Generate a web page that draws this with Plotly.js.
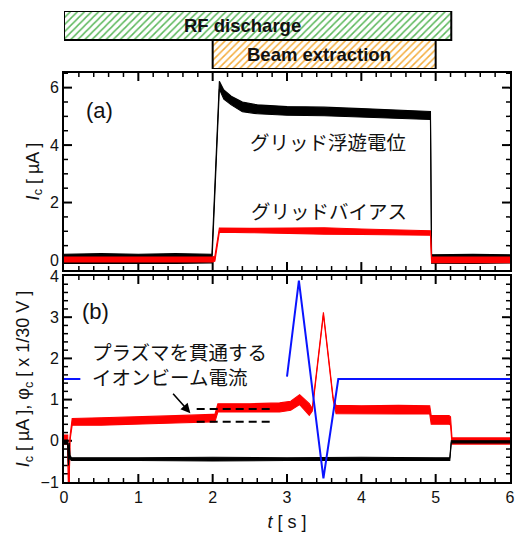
<!DOCTYPE html>
<html>
<head>
<meta charset="utf-8">
<script src="https://cdn.plot.ly/plotly-3.0.1.min.js"></script>
<style>html,body{margin:0;padding:0;background:#fff;}</style>
</head>
<body>
<div id="chart"></div>
<script>
// ---- phase bars (top) ----
const phaseNames = ['RF discharge', 'Beam extraction'];
const phaseStart = [0, 2.0];
const phaseEnd = [5.21, 5.0];

// ---- panel (a): grid floating potential (black) ----
const floatT  = [0, 0.5, 1.0, 1.5, 1.99, 2.09, 2.15, 2.25, 2.4, 2.6, 3.0, 3.5, 4.0, 4.5, 4.93, 4.945, 5.5, 6.0];
const floatHi = [0.20, 0.22, 0.20, 0.22, 0.20, 6.22, 5.92, 5.70, 5.50, 5.40, 5.34, 5.32, 5.27, 5.22, 5.17, 0.18, 0.20, 0.18];
const floatLo = [-0.12, -0.13, -0.12, -0.12, -0.10, 5.95, 5.60, 5.40, 5.16, 5.09, 5.04, 5.02, 4.98, 4.94, 4.89, -0.11, -0.12, -0.10];

// ---- panel (a): grid bias (red) ----
const biasT  = [0, 0.5, 1.0, 1.5, 2.0, 2.03, 2.09, 2.5, 3.0, 3.5, 4.0, 4.5, 4.93, 4.945, 5.5, 6.0];
const biasHi = [0.10, 0.10, 0.10, 0.10, 0.10, 0.14, 1.11, 1.10, 1.10, 1.12, 1.08, 1.04, 1.02, 0.10, 0.10, 0.10];
const biasLo = [-0.07, -0.07, -0.07, -0.07, -0.07, -0.04, 0.97, 0.95, 0.92, 0.90, 0.89, 0.87, 0.86, -0.09, -0.09, -0.09];

// ---- panel (b): ion beam current through plasma (red) ----
const beamT  = [0, 0.05, 0.062, 0.068, 0.08, 0.11, 0.5, 1.0, 1.5, 2.0, 2.03, 2.07, 2.5, 2.9, 3.05, 3.17, 3.3, 3.34, 3.49, 3.62, 3.66, 4.0, 4.5, 4.92, 4.94, 5.18, 5.2, 5.22, 5.6, 6.0];
const beamHi = [0.14, 0.14, -1.3, -1.3, 0.10, 0.54, 0.56, 0.58, 0.61, 0.64, 0.64, 0.90, 0.90, 0.92, 0.96, 1.12, 0.90, 0.78, 3.12, 1.06, 0.86, 0.85, 0.86, 0.85, 0.61, 0.61, 0.58, 0.07, 0.07, 0.07];
const beamLo = [-0.08, -0.08, -1.3, -1.3, 0.00, 0.38, 0.38, 0.40, 0.43, 0.46, 0.46, 0.70, 0.70, 0.70, 0.74, 0.88, 0.62, 0.72, 3.06, 1.00, 0.66, 0.65, 0.65, 0.65, 0.40, 0.40, 0.38, -0.08, -0.08, -0.08];

// ---- panel (b): collector current (black) ----
const ionT  = [0, 0.05, 0.06, 0.07, 0.08, 0.1, 1.0, 2.0, 3.0, 4.0, 5.0, 5.19, 5.21, 5.6, 6.0];
const ionHi = [0.02, 0.02, -0.55, -0.05, -0.35, -0.41, -0.41, -0.40, -0.41, -0.40, -0.41, -0.41, 0.00, 0.00, 0.00];
const ionLo = [-0.08, -0.08, -0.60, -0.10, -0.45, -0.48, -0.48, -0.49, -0.48, -0.48, -0.48, -0.48, -0.05, -0.05, -0.05];

// ---- panel (b): collector potential (blue, x 1/30 V) ----
const potT = [0, 0.22, 0.22, 3.0, 3.16, 3.49, 3.69, 6.0];
const potV = [1.5, 1.5, null, 1.56, 3.89, -0.91, 1.5, 1.5];

// ---- dashed reference levels ----
const dashT = [1.785, 2.77];
const dashUpper = 0.77;
const dashLower = 0.465;

const FONT = 'Liberation Sans, Arial, sans-serif';
const JP = 'Noto Sans CJK JP, sans-serif';

// ---- axis geometry ----
const W = 517, H = 539, M = {l: 64, r: 7, t: 11, b: 57};
const plotW = W - M.l - M.r, plotH = H - M.t - M.b;
const domB = [0, 0.4374], domA = [0.45, 0.8684], domBars = [0.8769, 1];
const xRange = [0, 6], yRangeB = [-1, 4], yRangeA = [-0.35, 6.51];

function band(t, hi, lo, color, xa, ya) {
  return [
    {x: t, y: lo, xaxis: xa, yaxis: ya, type: 'scatter', mode: 'lines',
     line: {color: color, width: 1.1}, hoverinfo: 'skip', showlegend: false},
    {x: t, y: hi, xaxis: xa, yaxis: ya, type: 'scatter', mode: 'lines', fill: 'tonexty',
     fillcolor: color, line: {color: color, width: 1.1}, hoverinfo: 'skip', showlegend: false}
  ];
}

// inside tick marks on all four sides of a panel, as line segments in the panel's own axes
function tickTraces(xa, ya, xr, yr, xMajor, xMinor, yMajor, yMinor, dom) {
  const pxX = plotW / (xr[1] - xr[0]);
  const pxY = (dom[1] - dom[0]) * plotH / (yr[1] - yr[0]);
  const isMaj = (v, m) => Math.abs(v / m - Math.round(v / m)) < 1e-6;
  const mk = () => ({x: [], y: []});
  const maj = mk(), mnr = mk();
  const nx = Math.round((xr[1] - xr[0]) / xMinor);
  for (let i = 1; i < nx; i++) {
    const v = xr[0] + i * xMinor, M2 = isMaj(v, xMajor), d = (M2 ? 8 : 4) / pxY, s = M2 ? maj : mnr;
    s.x.push(v, v, null, v, v, null);
    s.y.push(yr[0], yr[0] + d, null, yr[1], yr[1] - d, null);
  }
  const y0i = Math.ceil(yr[0] / yMinor - 1e-9), y1i = Math.floor(yr[1] / yMinor + 1e-9);
  for (let i = y0i; i <= y1i; i++) {
    const v = i * yMinor;
    if (Math.abs(v - yr[0]) < 1e-6 || Math.abs(v - yr[1]) < 1e-6) continue;
    const M2 = isMaj(v, yMajor), d = (M2 ? 8 : 4) / pxX, s = M2 ? maj : mnr;
    s.x.push(xr[0], xr[0] + d, null, xr[1], xr[1] - d, null);
    s.y.push(v, v, null, v, v, null);
  }
  return [
    {x: maj.x, y: maj.y, xaxis: xa, yaxis: ya, type: 'scatter', mode: 'lines', connectgaps: false,
     line: {color: '#000', width: 2}, hoverinfo: 'skip', showlegend: false},
    {x: mnr.x, y: mnr.y, xaxis: xa, yaxis: ya, type: 'scatter', mode: 'lines', connectgaps: false,
     line: {color: '#000', width: 1.5}, hoverinfo: 'skip', showlegend: false}
  ];
}

const traces = [];
// tick marks
traces.push(...tickTraces('x', 'y', xRange, yRangeB, 1, 0.2, 1, 0.2, domB));
traces.push(...tickTraces('x2', 'y2', xRange, yRangeA, 1, 0.2, 2, 0.5, domA));
// panel (b)
traces.push(...band(beamT, beamHi, beamLo, '#ff0000', 'x', 'y'));
traces.push(...band(ionT, ionHi, ionLo, '#000000', 'x', 'y'));
traces.push({x: potT, y: potV, xaxis: 'x', yaxis: 'y', type: 'scatter', mode: 'lines',
  line: {color: '#0a14ff', width: 2}, connectgaps: false, showlegend: false, hoverinfo: 'skip'});
traces.push({x: dashT, y: [dashUpper, dashUpper], xaxis: 'x', yaxis: 'y', type: 'scatter', mode: 'lines',
  line: {color: '#000', width: 2, dash: '8px,5px'}, showlegend: false, hoverinfo: 'skip'});
traces.push({x: dashT, y: [dashLower, dashLower], xaxis: 'x', yaxis: 'y', type: 'scatter', mode: 'lines',
  line: {color: '#000', width: 2, dash: '8px,5px'}, showlegend: false, hoverinfo: 'skip'});
// panel (a)
traces.push(...band(floatT, floatHi, floatLo, '#000000', 'x2', 'y2'));
traces.push(...band(biasT, biasHi, biasLo, '#ff0000', 'x2', 'y2'));
// top bars
const barColors = ['#5cb85c', '#f4ad3d'];
for (let i = 0; i < phaseNames.length; i++) {
  traces.push({
    type: 'bar', orientation: 'h', xaxis: 'x3', yaxis: 'y3',
    y: [phaseNames.length - 1 - i], x: [phaseEnd[i] - phaseStart[i]], base: [phaseStart[i]],
    width: 1, cliponaxis: false, showlegend: false, hoverinfo: 'skip',
    marker: {color: 'white', line: {color: '#000', width: 2},
             pattern: {shape: '/', fgcolor: barColors[i], bgcolor: 'white', size: 5, solidity: 0.3, fillmode: 'replace'}}
  });
}

const tickFont = {family: FONT, size: 16, color: '#111'};
const axBase = {showline: true, linewidth: 2, linecolor: '#000', mirror: true, ticks: '',
  zeroline: false, showgrid: false, tickfont: tickFont};

const layout = {
  width: W, height: H,
  margin: M,
  paper_bgcolor: '#fff', plot_bgcolor: 'rgba(0,0,0,0)',
  showlegend: false,
  xaxis: Object.assign({}, axBase, {range: xRange, dtick: 1, tick0: 0, anchor: 'y', domain: [0, 1],
    title: {text: '<i>t</i> [ s ]', font: {family: FONT, size: 18, color: '#111'}, standoff: 10}}),
  yaxis: Object.assign({}, axBase, {range: yRangeB, dtick: 1, tick0: 0, anchor: 'x', domain: domB,
    title: {text: '<i>I</i><sub>c</sub> [ µA ], φ<sub>c</sub> [ x 1/30 V ]', font: {family: FONT, size: 18, color: '#111'}, standoff: 6}}),
  xaxis2: Object.assign({}, axBase, {range: xRange, dtick: 1, tick0: 0, anchor: 'y2', domain: [0, 1], matches: 'x',
    showticklabels: false}),
  yaxis2: Object.assign({}, axBase, {range: yRangeA, dtick: 2, tick0: 0, anchor: 'x2', domain: domA,
    title: {text: '<i>I</i><sub>c</sub> [ µA ]', font: {family: FONT, size: 18, color: '#111'}, standoff: 6}}),
  xaxis3: {range: xRange, anchor: 'y3', domain: [0, 1], visible: false},
  yaxis3: {range: [-0.5, 1.5], anchor: 'x3', domain: domBars, visible: false},
  barmode: 'overlay',
  annotations: [
    {xref: 'x3', yref: 'y3', x: 2.40, y: 1, text: '<b>RF discharge</b>', showarrow: false,
     font: {family: FONT, size: 18.5, color: '#111'}},
    {xref: 'x3', yref: 'y3', x: 3.43, y: 0, text: '<b>Beam extraction</b>', showarrow: false,
     font: {family: FONT, size: 18.5, color: '#111'}},
    {xref: 'x2', yref: 'y2', x: 0.475, y: 5.22, text: '(a)', showarrow: false,
     font: {family: FONT, size: 22, color: '#111'}},
    {xref: 'x', yref: 'y', x: 0.43, y: 3.13, text: '(b)', showarrow: false,
     font: {family: FONT, size: 22, color: '#111'}},
    {xref: 'x2', yref: 'y2', x: 3.55, y: 4.12, text: 'グリッド浮遊電位', showarrow: false,
     font: {family: JP, size: 19.5, color: '#111'}},
    {xref: 'x2', yref: 'y2', x: 3.57, y: 1.74, text: 'グリッドバイアス', showarrow: false,
     font: {family: JP, size: 19.5, color: '#111'}},
    {xref: 'x', yref: 'y', x: 0.35, y: 2.16, text: 'プラズマを貫通する', showarrow: false, xanchor: 'left',
     font: {family: JP, size: 19.5, color: '#111'}},
    {xref: 'x', yref: 'y', x: 0.35, y: 1.55, text: 'イオンビーム電流', showarrow: false, xanchor: 'left',
     font: {family: JP, size: 19.5, color: '#111'}},
    {xref: 'x', yref: 'y', x: 1.70, y: 0.67, ax: 1.45, ay: 1.18, axref: 'x', ayref: 'y', text: '',
     showarrow: true, arrowhead: 2, arrowsize: 1.2, arrowwidth: 1.6, arrowcolor: '#000'}
  ]
};

Plotly.newPlot('chart', traces, layout, {staticPlot: true});
</script>
</body>
</html>
